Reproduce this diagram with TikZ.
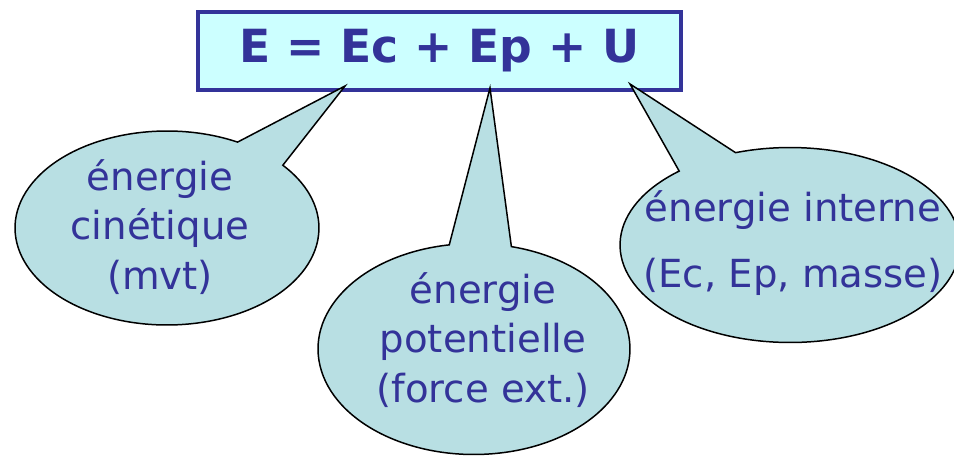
\documentclass[tikz,border=0pt]{standalone}
\usepackage{fontspec}
\setmainfont{DejaVu Sans}
\usepackage{xcolor}
\definecolor{eqnavy}{RGB}{51,51,153}
\definecolor{eqcyan}{RGB}{204,255,255}
\definecolor{bubblue}{RGB}{184,223,227}
\usetikzlibrary{shapes.callouts}

\begin{document}
\begin{tikzpicture}[x=0.02cm, y=-0.02cm,
  eqbox/.style={rectangle, draw=eqnavy, line width=2.3pt, fill=eqcyan,
                minimum width=9.66cm, minimum height=1.56cm, text=eqnavy,
                font=\fontsize{26}{30}\selectfont\bfseries},
  bubble/.style={ellipse callout, draw=black, line width=0.85pt,
                 fill=bubblue, inner sep=0pt},
  btext/.style={align=center, text=eqnavy,
                font=\fontsize{22}{28.4}\selectfont}
]
\useasboundingbox (0,0) rectangle (954,460);

% Equation box
\node[eqbox] (eq) at (439.5,51) {E = Ec + Ep + U};

% Pointer tips on the box
\coordinate (tipEc) at (345,86);
\coordinate (tipEp) at (490,88);
\coordinate (tipU)  at (630,84);

% Bubbles
\node[bubble, minimum width=6.08cm, minimum height=3.88cm,
      callout pointer arc=22, callout absolute pointer={(tipEc)}] (kin) at (167,228) {};
\node[btext] (kintxt) at (160,227) {énergie\\cinétique\\(mvt)};

\node[bubble, minimum width=6.24cm, minimum height=4.22cm,
      callout pointer arc=23, callout absolute pointer={(tipEp)}] (pot) at (474,349) {};
\node[btext] (pottxt) at (483,340) {énergie\\potentielle\\(force ext.)};

\node[bubble, minimum width=6.8cm, minimum height=3.9cm,
      callout pointer arc=22, callout absolute pointer={(tipU)}] (int) at (790,245) {};
\node[btext, font=\fontsize{22}{38}\selectfont] (inttxt) at (793,243) {énergie interne\\(Ec, Ep, masse)};
\end{tikzpicture}
\end{document}
